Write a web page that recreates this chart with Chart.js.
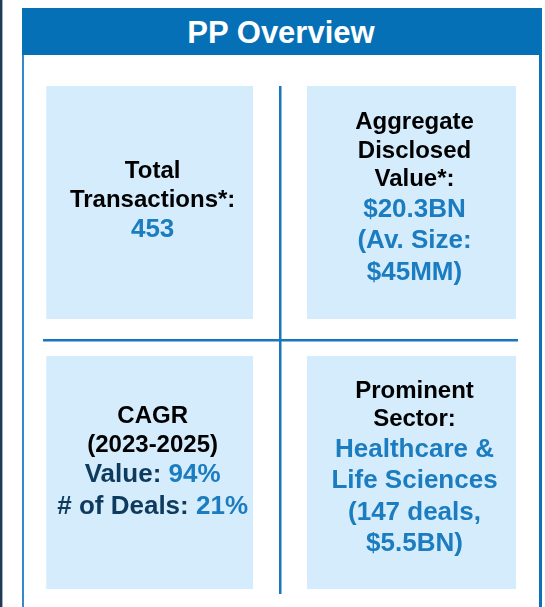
<!DOCTYPE html>
<html>
<head>
<meta charset="utf-8">
<script src="https://cdn.jsdelivr.net/npm/chart.js@4.4.1/dist/chart.umd.min.js"></script>
<style>
    html, body { margin: 0; padding: 0; background: #fff; }
    body { width: 545px; height: 607px; position: relative; overflow: hidden; font-family: "Liberation Sans", Arial, sans-serif; }
    .edge { position: absolute; left: 0; top: 0; width: 3px; height: 607px; background: #1d3b58; border-right: 1px solid #a3b0bc; box-sizing: border-box; }
    .panel { position: absolute; left: 22px; top: 8px; width: 520px; height: 640px; border-left: 2px solid #3589c8; border-right: 3px solid #0a72b9; box-sizing: border-box; }
    .header { position: absolute; left: 22px; top: 8px; width: 518px; height: 47px; background: #0570b5; color: #fff; font-weight: bold; font-size: 31px; line-height: 50px; text-align: center; }
    #panelChart { position: absolute; left: 0; top: 0; z-index: 2; }
</style>
</head>
<body>
<div class="edge"></div>
<div class="panel"></div>
<div class="header">PP Overview</div>
<canvas id="panelChart" width="545" height="607"></canvas>
<script>
(() => {
    // grid cells of the overview, read left to right, top to bottom
    const rowNames = ['Top', 'Bottom'];
    const cellRows = ['Top', 'Top', 'Bottom', 'Bottom'];
    const cellCols = [0, 1, 0, 1];

    const labelLines = [
        ['Total', 'Transactions*:'],
        ['Aggregate', 'Disclosed', 'Value*:'],
        ['CAGR', '(2023-2025)'],
        ['Prominent', 'Sector:']
    ];
    const valueLines = [
        ['453'],
        ['$20.3BN', '(Av. Size:', '$45MM)'],
        [],
        ['Healthcare &', 'Life Sciences', '(147 deals,', '$5.5BN)']
    ];
    const cagrNames = ['Value: ', '# of Deals: '];
    const cagrRates = ['94%', '21%'];

    const BLACK = '#000000';
    const BLUE = '#1b7cc0';
    const NAVY = '#0d3a5d';
    const LINE = '#1a76bc';
    const CELL = '#d4ecfc';

    const labelFont = { size: 24, lh: 28.5 };
    const valueFont = { size: 26, lh: 31.5 };

    // white inner borders carve the gaps between cells and the divider lines
    const cellSides = [
        { top: 0, bottom: 21, left: 2, right: 27.5 },
        { top: 0, bottom: 21, left: 26.5, right: 2 },
        { top: 16, bottom: 5, left: 2, right: 27.5 },
        { top: 16, bottom: 5, left: 26.5, right: 2 }
    ];

    const blocks = labelLines.map((labels, i) => {
        const lines = labels.map(t => ({ parts: [{ text: t, color: BLACK }], font: labelFont }));
        valueLines[i].forEach(t => lines.push({ parts: [{ text: t, color: BLUE }], font: valueFont }));
        if (i === 2) {
            cagrNames.forEach((name, k) => {
                lines.push({ parts: [{ text: name, color: NAVY }, { text: cagrRates[k], color: BLUE }], font: valueFont });
            });
        }
        return lines;
    });

    const cellText = {
        id: 'cellText',
        afterDatasetsDraw(chart, args, opts) {
            const ctx = chart.ctx;
            const meta = chart.getDatasetMeta(0);
            ctx.save();
            ctx.textAlign = 'left';
            ctx.textBaseline = 'middle';
            meta.data.forEach((bar, i) => {
                const p = bar.getProps(['x', 'y', 'base', 'height'], true);
                const s = cellSides[i];
                const left = Math.min(p.x, p.base) + s.left;
                const right = Math.max(p.x, p.base) - s.right;
                const top = p.y - p.height / 2 + s.top;
                const bottom = p.y + p.height / 2 - s.bottom;
                const lines = blocks[i];
                const total = lines.reduce((sum, l) => sum + l.font.lh, 0);
                let y = (top + bottom) / 2 - total / 2 + opts.shiftY[i];
                const cx = (left + right) / 2 + opts.shiftX;
                lines.forEach(line => {
                    ctx.font = 'bold ' + line.font.size + 'px "Liberation Sans", Arial, sans-serif';
                    const widths = line.parts.map(part => ctx.measureText(part.text).width);
                    let x = cx - widths.reduce((a, b) => a + b, 0) / 2;
                    line.parts.forEach((part, k) => {
                        ctx.fillStyle = part.color;
                        ctx.fillText(part.text, x, y + line.font.lh / 2);
                        x += widths[k];
                    });
                    y += line.font.lh;
                });
            });
            ctx.restore();
        }
    };

    new Chart(document.getElementById('panelChart'), {
        type: 'bar',
        data: {
            labels: rowNames,
            datasets: [{
                label: 'PP Overview',
                data: cellCols.map((c, i) => ({ x: [c, c + 1], y: cellRows[i] })),
                backgroundColor: CELL,
                borderColor: '#ffffff',
                borderWidth: c => cellSides[c.dataIndex],
                borderSkipped: false,
                inflateAmount: 0,
                categoryPercentage: 1,
                barPercentage: 1,
                grouped: false
            }]
        },
        options: {
            indexAxis: 'y',
            responsive: false,
            animation: false,
            layout: {
                padding: { left: 43, right: 27, top: 86, bottom: 13 }
            },
            plugins: {
                legend: { display: false },
                tooltip: { enabled: false },
                cellText: { shiftX: 3, shiftY: [-1, -4, -10, -4] }
            },
            scales: {
                x: {
                    type: 'linear',
                    min: 0,
                    max: 2,
                    ticks: { display: false, stepSize: 1 },
                    border: { display: false },
                    grid: {
                        z: 1,
                        drawTicks: false,
                        lineWidth: 2.5,
                        color: c => (c.tick && c.tick.value === 1 ? LINE : 'rgba(0,0,0,0)')
                    }
                },
                y: {
                    type: 'category',
                    offset: true,
                    ticks: { display: false },
                    border: { display: false },
                    grid: {
                        z: 1,
                        offset: true,
                        drawTicks: false,
                        lineWidth: 2.5,
                        color: c => (c.index === 1 ? LINE : 'rgba(0,0,0,0)')
                    }
                }
            }
        },
        plugins: [cellText]
    });
})();
</script>
</body>
</html>
